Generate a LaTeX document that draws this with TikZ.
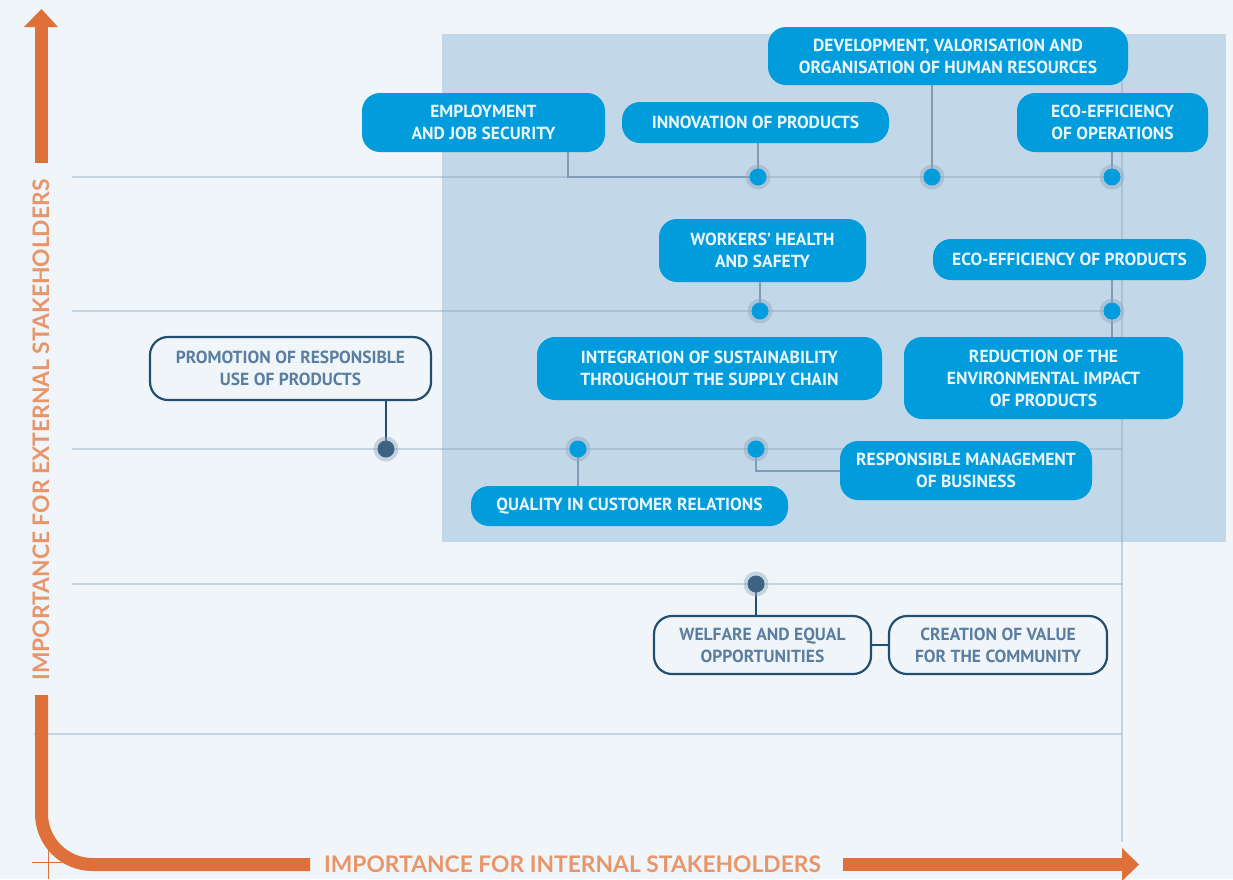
\documentclass[tikz,border=0pt]{standalone}
\usepackage{fontspec}
\setmainfont{PT Sans}
\newfontfamily\axisfont{Lato}
\definecolor{bgc}{RGB}{240,245,249}
\definecolor{shadec}{RGB}{194,215,231}
\definecolor{boxblue}{RGB}{0,156,220}
\definecolor{boxtext}{RGB}{233,245,251}
\definecolor{outl}{RGB}{35,78,112}
\definecolor{outltext}{RGB}{90,126,160}
\definecolor{gridc}{RGB}{143,170,194}
\definecolor{connc}{RGB}{127,155,181}
\definecolor{darkdot}{RGB}{62,98,130}
\definecolor{orbar}{RGB}{224,112,58}
\definecolor{ortext}{RGB}{232,149,106}
\tikzset{
  bluebox/.style={draw=none,fill=boxblue,text=boxtext,rounded corners=18pt,inner sep=0pt,align=center,
    font=\bfseries\fontsize{17.5}{22}\selectfont},
  outbox/.style={draw=outl,line width=2.2pt,fill=bgc,text=outltext,rounded corners=18pt,inner sep=0pt,align=center,
    font=\bfseries\fontsize{17.5}{22}\selectfont},
  gridline/.style={draw=gridc,draw opacity=0.45,line width=2pt},
  conn/.style={draw=connc,line width=2pt},
  darkconn/.style={draw=outl,line width=2pt},
  axistext/.style={text=ortext,inner sep=0pt,font=\axisfont\bfseries\fontsize{22.8}{22.8}\selectfont},
}
\begin{document}
\begin{tikzpicture}[x=1pt,y=-1pt]
\useasboundingbox (0,0) rectangle (1233,879);
\fill[bgc] (0,0) rectangle (1233,879);
\fill[shadec] (442,34) rectangle (1226,542);
% grid
\draw[gridline] (72,177) -- (1122,177);
\draw[gridline] (72,311) -- (1122,311);
\draw[gridline] (72,449) -- (1122,449);
\draw[gridline] (72,584) -- (1122,584);
\draw[gridline] (34,734) -- (1122,734);
\draw[gridline] (1122,40) -- (1122,842);
% axes
\fill[orbar] (35,27) rectangle (48,163);
\fill[orbar] (24,27) -- (58,27) -- (41.5,9) -- cycle;
\draw[orbar,line width=13pt,rounded corners=51pt] (41.5,695) -- (41.5,864.5) -- (310,864.5);
\fill[orbar] (843,858) rectangle (1122,871);
\fill[orbar] (1122,848) -- (1122,881) -- (1139,864.5) -- cycle;
\draw[orbar,line width=1pt] (32,862) -- (62,862);
\draw[orbar,line width=1pt] (48,847) -- (48,879);
\node[axistext,rotate=90] (ylab) at (41,430) {IMPORTANCE FOR EXTERNAL STAKEHOLDERS};
\node[axistext] (xlab) at (572.5,864) {IMPORTANCE FOR INTERNAL STAKEHOLDERS};
% dot positions
\coordinate (dInnov) at (758,177);
\coordinate (dDev) at (932,177);
\coordinate (dOps) at (1112,177);
\coordinate (dWork) at (760,311);
\coordinate (dProd) at (1112,311);
\coordinate (dPromo) at (386,449);
\coordinate (dQual) at (578,449);
\coordinate (dResp) at (756,449);
\coordinate (dWelf) at (756,584);
% boxes
\node[bluebox,minimum width=243pt,minimum height=59pt] (emp) at (483.5,122.5) {EMPLOYMENT\\AND JOB SECURITY};
\node[bluebox,minimum width=267pt,minimum height=41pt] (innov) at (755.5,122.5) {INNOVATION OF PRODUCTS};
\node[bluebox,minimum width=360pt,minimum height=58pt] (dev) at (948,56) {DEVELOPMENT, VALORISATION AND\\ORGANISATION OF HUMAN RESOURCES};
\node[bluebox,minimum width=191pt,minimum height=59pt] (ops) at (1112.5,122.5) {ECO-EFFICIENCY\\OF OPERATIONS};
\node[bluebox,minimum width=207pt,minimum height=63pt] (work) at (762.5,250.5) {WORKERS’ HEALTH\\AND SAFETY};
\node[bluebox,minimum width=273pt,minimum height=41pt] (prod) at (1069.5,259.5) {ECO-EFFICIENCY OF PRODUCTS};
\node[bluebox,minimum width=345pt,minimum height=63pt] (integ) at (709.5,368.5) {INTEGRATION OF SUSTAINABILITY\\THROUGHOUT THE SUPPLY CHAIN};
\node[bluebox,minimum width=279pt,minimum height=82pt] (reduct) at (1043.5,378) {REDUCTION OF THE\\ENVIRONMENTAL IMPACT\\OF PRODUCTS};
\node[bluebox,minimum width=252pt,minimum height=59pt] (resp) at (966,470.5) {RESPONSIBLE MANAGEMENT\\OF BUSINESS};
\node[bluebox,minimum width=317pt,minimum height=40pt] (qual) at (629.5,506) {QUALITY IN CUSTOMER RELATIONS};
\node[outbox,minimum width=281pt,minimum height=63pt] (promo) at (290.5,368.5) {PROMOTION OF RESPONSIBLE\\USE OF PRODUCTS};
\node[outbox,minimum width=217pt,minimum height=58pt] (welf) at (762.5,645) {WELFARE AND EQUAL\\OPPORTUNITIES};
\node[outbox,minimum width=218pt,minimum height=58pt] (creat) at (998,645) {CREATION OF VALUE\\FOR THE COMMUNITY};
% connectors
\draw[conn] ([xshift=84.5pt]emp.south) |- (dInnov);
\draw[conn] (innov.south -| dInnov) -- (dInnov);
\draw[conn] (dev.south -| dDev) -- (dDev);
\draw[conn] (ops.south -| dOps) -- (dOps);
\draw[conn] (work.south -| dWork) -- (dWork);
\draw[conn] (prod.south -| dProd) -- (reduct.north -| dProd);
\draw[conn] (dQual) -- (qual.north -| dQual);
\draw[conn] (dResp) |- (resp.west);
\draw[darkconn] (promo.south -| dPromo) -- (dPromo);
\draw[darkconn] (dWelf) -- (welf.north -| dWelf);
\draw[darkconn] (welf.east) -- (creat.west);
% dots
\foreach \d in {dInnov,dDev,dOps,dWork,dProd,dQual,dResp}{
  \fill[gridc,opacity=0.45] (\d) circle (12.5pt);
  \fill[boxblue] (\d) circle (8.5pt);
}
\foreach \d in {dPromo,dWelf}{
  \fill[gridc,opacity=0.45] (\d) circle (12.5pt);
  \fill[darkdot] (\d) circle (8.5pt);
}
\end{tikzpicture}
\end{document}
